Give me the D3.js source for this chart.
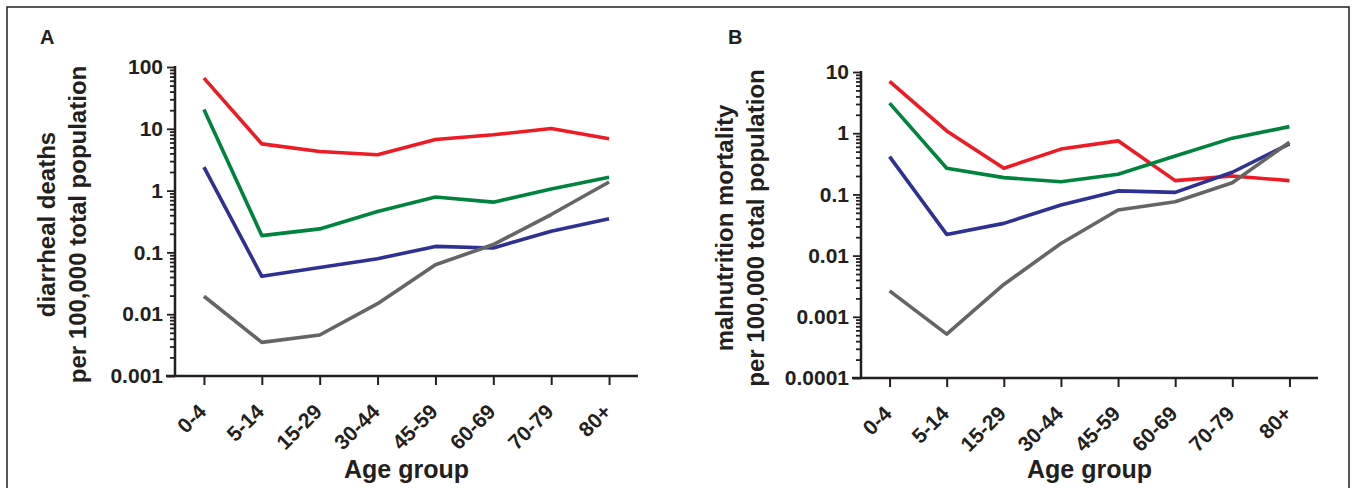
<!DOCTYPE html>
<html lang="en">

<head>
    <meta charset="UTF-8">
    <title>Diarrheal and malnutrition mortality by age group</title>
    <script src="https://cdn.jsdelivr.net/npm/d3@7/dist/d3.min.js"></script>
    <style>
        * {
            margin: 0;
        }

        body {
            background: #fff;
        }

        svg text {
            font-family: "Liberation Sans", Arial, sans-serif;
            font-weight: bold;
            fill: #231f20;
        }
    </style>
</head>

<body>
    <svg id="chart" width="1356" height="488"></svg>
    <script>
        // age groups (x categories)
        var ageGroups = ["0-4", "5-14", "15-29", "30-44", "45-59", "60-69", "70-79", "80+"];

        // panel A: diarrheal deaths per 100,000
        var diarrRed = [66, 5.7, 4.3, 3.8, 6.7, 8.0, 10.1, 6.9];
        var diarrGreen = [20.5, 0.187, 0.24, 0.46, 0.79, 0.65, 1.06, 1.64];
        var diarrBlue = [2.4, 0.041, 0.057, 0.079, 0.125, 0.118, 0.22, 0.35];
        var diarrGray = [0.0195, 0.0035, 0.0046, 0.0148, 0.063, 0.134, 0.41, 1.38];
        var diarrTicks = ["0.001", "0.01", "0.1", "1", "10", "100"];

        // panel B: malnutrition mortality per 100,000
        var malnRed = [7.0, 1.09, 0.267, 0.55, 0.75, 0.168, 0.2, 0.168];
        var malnGreen = [3.1, 0.267, 0.188, 0.161, 0.213, 0.425, 0.83, 1.28];
        var malnBlue = [0.415, 0.0222, 0.0336, 0.067, 0.114, 0.108, 0.23, 0.668];
        var malnGray = [0.00265, 0.00052, 0.00338, 0.0158, 0.0556, 0.076, 0.155, 0.71];
        var malnTicks = ["0.0001", "0.001", "0.01", "0.1", "1", "10"];

        var colors = ["#ed1c24", "#00843d", "#2e3192", "#656565"];
        var ink = "#231f20";

        var svg = d3.select("#chart");

        // outer frame (bottom edge runs off the picture)
        svg.append("rect")
            .attr("x", 7).attr("y", 7)
            .attr("width", 1342).attr("height", 500)
            .attr("fill", "none")
            .attr("stroke", ink)
            .attr("stroke-width", 1.5);

        var panels = [
            {
                letter: "A", letterX: 40, x0: 175, x1: 638, yTop: 67, yBot: 376,
                title: ["diarrheal deaths", "per 100,000 total population"], titleX: 47,
                ticks: diarrTicks, series: [diarrRed, diarrGreen, diarrBlue, diarrGray]
            },
            {
                letter: "B", letterX: 728, x0: 861, x1: 1318, yTop: 72, yBot: 378,
                title: ["malnutrition mortality", "per 100,000 total population"], titleX: 725,
                ticks: malnTicks, series: [malnRed, malnGreen, malnBlue, malnGray]
            }
        ];

        panels.forEach(function (p) {
            var g = svg.append("g");

            var tickVals = p.ticks.map(Number);
            var y = d3.scaleLog()
                .domain([tickVals[0], tickVals[tickVals.length - 1]])
                .range([p.yBot, p.yTop]);

            var x = d3.scalePoint()
                .domain(ageGroups)
                .range([p.x0, p.x1])
                .padding(0.5);

            // log minor ticks 2..9 within every decade
            var minor = [];
            for (var i = 0; i < tickVals.length - 1; i++) {
                for (var k = 2; k <= 9; k++) minor.push(tickVals[i] * k);
            }

            // y axis
            var yAxis = g.append("g")
                .attr("transform", "translate(" + p.x0 + ",0)")
                .call(d3.axisLeft(y)
                    .tickValues(tickVals.concat(minor))
                    .tickSize(8)
                    .tickSizeOuter(0)
                    .tickFormat(function (d) {
                        var idx = tickVals.indexOf(d);
                        return idx >= 0 ? p.ticks[idx] : "";
                    }));
            yAxis.select(".domain").remove();
            yAxis.selectAll(".tick line")
                .attr("stroke", ink)
                .attr("stroke-width", 1.8)
                .attr("x2", function (d) { return tickVals.indexOf(d) >= 0 ? -8 : -5; });
            yAxis.selectAll(".tick text")
                .attr("x", -12)
                .style("font-size", "21px")
                .style("font-family", "'Liberation Sans', Arial, sans-serif")
                .style("font-weight", "bold")
                .attr("fill", ink);

            g.append("line")
                .attr("x1", p.x0).attr("x2", p.x0)
                .attr("y1", p.yTop - 1).attr("y2", p.yBot)
                .attr("stroke", ink).attr("stroke-width", 2.5);

            // x axis
            var xAxis = g.append("g")
                .attr("transform", "translate(0," + p.yBot + ")")
                .call(d3.axisBottom(x).tickSize(9).tickSizeOuter(0));
            xAxis.select(".domain").remove();
            xAxis.selectAll(".tick line")
                .attr("stroke", ink)
                .attr("stroke-width", 2);
            xAxis.selectAll(".tick text")
                .attr("y", 0).attr("dy", 0)
                .attr("text-anchor", "end")
                .attr("transform", "translate(3,37) rotate(-45)")
                .style("font-size", "21px")
                .style("font-family", "'Liberation Sans', Arial, sans-serif")
                .style("font-weight", "bold")
                .attr("fill", ink);

            g.append("line")
                .attr("x1", p.x0 - 9).attr("x2", p.x1)
                .attr("y1", p.yBot).attr("y2", p.yBot)
                .attr("stroke", ink).attr("stroke-width", 2.5);

            // series lines
            var line = d3.line()
                .x(function (d, i) { return x(ageGroups[i]); })
                .y(function (d) { return y(d); });

            g.selectAll("path.series")
                .data(p.series)
                .enter()
                .append("path")
                .attr("class", "series")
                .attr("d", line)
                .attr("fill", "none")
                .attr("stroke", function (d, i) { return colors[i]; })
                .attr("stroke-width", 3.6)
                .attr("stroke-linejoin", "round");

            // panel letter
            g.append("text")
                .attr("x", p.letterX).attr("y", 44)
                .style("font-size", "20px")
                .text(p.letter);

            // y title (two lines, rotated)
            var cy = (p.yTop + p.yBot) / 2 + 3;
            g.append("text")
                .attr("transform", "translate(" + (p.titleX + 8) + "," + cy + ") rotate(-90)")
                .attr("text-anchor", "middle")
                .style("font-size", "24px")
                .selectAll("tspan")
                .data(p.title)
                .enter()
                .append("tspan")
                .attr("x", 0)
                .attr("dy", function (d, i) { return i === 0 ? 0 : 31; })
                .text(function (d) { return d; });

            // x title
            g.append("text")
                .attr("x", (p.x0 + p.x1) / 2)
                .attr("y", 478)
                .attr("text-anchor", "middle")
                .style("font-size", "25px")
                .text("Age group");
        });
    </script>
</body>

</html>
